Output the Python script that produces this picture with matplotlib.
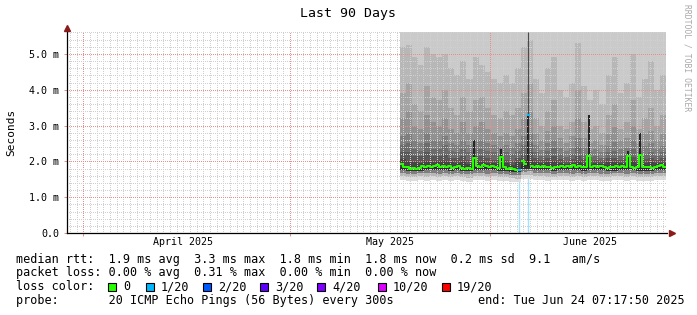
import numpy as np
import matplotlib.pyplot as plt
from matplotlib.patches import Rectangle

W, H = 697, 315
MONO = "DejaVu Sans Mono"

# time axis: days from the left edge of the graph (90 days wide)
month_days = [2.45, 33.45, 63.45]          # Apr 1, May 1, Jun 1
label_days = [17.45, 48.45, 78.45]
month_labels = ["April 2025", "May 2025", "June 2025"]

y_top = 5.61
y_ticks = [0, 1, 2, 3, 4, 5]
y_labels = ["0.0", "1.0 m", "2.0 m", "3.0 m", "4.0 m", "5.0 m"]

# samples start mid May
t0 = 49.95
med_step = 0.4534
smoke_step = 2 * med_step

median = [1.92, 1.84, 1.83, 1.80, 1.81, 1.79, 1.82, 1.86, 1.84, 1.88,
          1.83, 1.87, 1.90, 1.85, 1.86, 1.83, 1.88, 1.82, 1.85, 1.88,
          1.81, 1.79, 1.82, 1.80, 2.08, 1.86, 1.84, 1.89, 1.86, 1.83,
          1.88, 1.85, 1.82, 2.12, 1.84, 1.80, 1.82, 1.78, 1.77, 1.76,
          2.00, 1.93, 3.30, 1.88, 1.85, 1.87, 1.84, 1.86, 1.83, 1.85,
          1.82, 1.84, 1.83, 1.86, 1.84, 1.88, 1.85, 1.89, 1.84, 1.86,
          1.83, 1.85, 2.15, 1.84, 1.86, 1.83, 1.87, 1.84, 1.82, 1.85,
          1.83, 1.86, 1.84, 1.88, 1.85, 2.15, 1.84, 1.82, 1.83, 2.18,
          1.84, 1.83, 1.85, 1.82, 1.84, 1.86, 1.90, 1.85]
loss_at = [39, 42]
loss_n = [1, 1]

# smoke: upper pings (12..18) and lower pings (1, 3, 6, 9)
p18 = [5.2, 5.25, 4.9, 4.7, 5.2, 5.0, 4.9, 5.0, 4.6, 4.4, 4.8, 4.3, 4.9, 4.7, 4.5,
       4.3, 4.2, 4.4, 4.2, 4.6, 5.2, 5.4, 4.3, 3.9, 4.6, 4.9, 4.0, 3.8, 4.2, 5.3,
       4.1, 3.7, 4.0, 3.6, 4.4, 4.9, 3.9, 4.2, 5.0, 3.8, 4.3, 4.8, 4.0, 4.4]
p17 = [3.9, 4.2, 3.6, 3.4, 4.1, 3.8, 3.7, 4.0, 3.5, 3.3, 3.8, 3.4, 3.7, 3.8, 3.5,
       3.3, 3.2, 3.4, 3.3, 3.5, 3.9, 4.2, 3.2, 3.0, 3.4, 3.7, 3.0, 2.9, 3.1, 4.0,
       3.1, 2.9, 3.0, 2.8, 3.3, 3.6, 2.9, 3.1, 3.7, 2.9, 3.2, 3.5, 3.0, 3.3]
p16 = [3.2, 3.4, 3.0, 2.9, 3.3, 3.1, 3.0, 3.2, 2.9, 2.8, 3.1, 2.8, 3.0, 3.1, 2.9,
       2.8, 2.7, 2.8, 2.7, 2.9, 3.2, 3.4, 2.75, 2.6, 2.85, 3.0, 2.65, 2.5, 2.7, 3.2,
       2.65, 2.5, 2.6, 2.45, 2.75, 2.95, 2.6, 2.65, 3.0, 2.5, 2.75, 2.85, 2.6, 2.75]
p15 = [2.7, 2.8, 2.6, 2.5, 2.8, 2.6, 2.6, 2.7, 2.5, 2.45, 2.6, 2.45, 2.6, 2.6, 2.5,
       2.45, 2.4, 2.45, 2.4, 2.5, 2.7, 2.8, 2.45, 2.32, 2.5, 2.6, 2.38, 2.3, 2.38, 2.65,
       2.38, 2.3, 2.34, 2.25, 2.42, 2.55, 2.34, 2.38, 2.6, 2.3, 2.42, 2.5, 2.34, 2.42]
p14 = [2.45, 2.5, 2.35, 2.3, 2.5, 2.35, 2.35, 2.45, 2.3, 2.25, 2.35, 2.25, 2.35, 2.35, 2.3,
       2.25, 2.2, 2.25, 2.2, 2.3, 2.45, 2.5, 2.25, 2.15, 2.3, 2.38, 2.2, 2.12, 2.2, 2.4,
       2.2, 2.12, 2.16, 2.1, 2.25, 2.3, 2.16, 2.2, 2.35, 2.12, 2.2, 2.25, 2.16, 2.25]
p13 = [2.25, 2.25, 2.15, 2.15, 2.25, 2.15, 2.15, 2.2, 2.1, 2.1, 2.15, 2.05, 2.15, 2.15, 2.1,
       2.05, 2.05, 2.05, 2.0, 2.1, 2.2, 2.25, 2.1, 2.04, 2.1, 2.15, 2.06, 2.02, 2.06, 2.15,
       2.06, 2.02, 2.04, 2.02, 2.08, 2.1, 2.04, 2.06, 2.12, 2.02, 2.06, 2.08, 2.04, 2.08]
p12 = [2.06, 2.02, 1.98, 1.96, 2.02, 1.98, 2.0, 2.02, 1.98, 1.96, 1.98, 1.93, 2.0, 1.98, 1.96,
       1.94, 1.93, 1.94, 1.9, 1.98, 2.04, 2.03, 1.98, 1.94, 1.98, 2.0, 1.95, 1.93, 1.95, 2.0,
       1.95, 1.93, 1.94, 1.93, 1.97, 1.98, 1.94, 1.95, 2.0, 1.93, 1.95, 1.97, 1.94, 1.96]
p9 = [1.76, 1.74, 1.73, 1.74, 1.75, 1.76, 1.75, 1.75, 1.74, 1.75, 1.73, 1.72, 1.75, 1.76, 1.75,
      1.75, 1.74, 1.72, 1.70, 1.69, 1.78, 1.80, 1.76, 1.76, 1.75, 1.74, 1.75, 1.76, 1.75, 1.76,
      1.74, 1.76, 1.75, 1.75, 1.74, 1.74, 1.76, 1.75, 1.75, 1.74, 1.74, 1.74, 1.75, 1.75]
p6 = [1.68, 1.66, 1.65, 1.67, 1.67, 1.68, 1.66, 1.67, 1.66, 1.68, 1.65, 1.64, 1.67, 1.68, 1.66,
      1.67, 1.66, 1.64, 1.62, 1.61, 1.70, 1.72, 1.68, 1.67, 1.67, 1.66, 1.68, 1.68, 1.66, 1.68,
      1.66, 1.68, 1.67, 1.66, 1.66, 1.67, 1.68, 1.66, 1.67, 1.66, 1.65, 1.66, 1.67, 1.68]
p3 = [1.59, 1.56, 1.56, 1.58, 1.57, 1.59, 1.57, 1.58, 1.56, 1.59, 1.56, 1.54, 1.58, 1.59, 1.57,
      1.58, 1.57, 1.55, 1.53, 1.52, 1.61, 1.63, 1.58, 1.59, 1.57, 1.57, 1.59, 1.58, 1.57, 1.60,
      1.56, 1.59, 1.58, 1.57, 1.57, 1.58, 1.59, 1.57, 1.58, 1.56, 1.57, 1.56, 1.58, 1.58]
p1 = [1.48, 1.45, 1.46, 1.47, 1.46, 1.49, 1.46, 1.48, 1.45, 1.48, 1.45, 1.43, 1.47, 1.49, 1.46,
      1.48, 1.46, 1.44, 1.42, 1.41, 1.50, 1.52, 1.47, 1.49, 1.46, 1.47, 1.48, 1.47, 1.46, 1.49,
      1.45, 1.48, 1.47, 1.46, 1.46, 1.48, 1.48, 1.46, 1.47, 1.45, 1.46, 1.45, 1.48, 1.47]

# narrow dark columns where the pings split
spike_idx = [24, 33, 42, 62, 75, 79]
spike_lo = [1.85, 1.85, 1.88, 1.85, 1.85, 1.85]
spike_hi = [2.6, 2.35, 3.3, 3.3, 2.3, 2.8]

loss_levels = ["0", "1/20", "2/20", "3/20", "4/20", "10/20", "19/20"]
loss_colors = ["#26ff00", "#00b8ff", "#0059ff", "#5e00ff", "#7e00ff", "#dd00ff", "#ff0000"]


def px(x, y):
    return x / W, 1 - y / H


def ext(a):
    a = np.asarray(a, float)
    return np.append(a, a[-1])


fig = plt.figure(figsize=(W / 100, H / 100), dpi=100)
fig.patch.set_facecolor("white")
ax = fig.add_axes([67 / W, (H - 233) / H, 600 / W, 201 / H])
ax.set_xlim(0, 90)
ax.set_ylim(0, y_top)

# smoke
n_s = len(p18)
ts = t0 + smoke_step * np.arange(n_s + 1)
top = np.full(n_s, y_top)
med = np.array(median)
n_m = len(med)
tm = t0 + med_step * np.arange(n_m + 1)
med_s = np.minimum(med[0::2], med[1::2])

layers = [
    (p1, top, "#dddddd"),
    (p3, top, "#cacaca"),
    (p3, p18, "#b7b7b7"),
    (p6, p17, "#a4a4a4"),
    (p6, p16, "#919191"),
    (p6, p15, "#7e7e7e"),
    (p9, p14, "#6b6b6b"),
    (p9, p13, "#585858"),
    (p9, p12, "#454545"),
    (p9, med_s, "#323232"),
]

loss = np.zeros(n_m, dtype=int)
for i, n in zip(loss_at, loss_n):
    loss[i] = n
tc = t0 + med_step * (np.arange(n_m) + 0.5)
ax.vlines(tc[loss > 0], 0, y_top, color="#a3e2ff", lw=1.0, zorder=0.8)

for lo, hi, c in layers:
    ax.fill_between(ts, ext(lo), ext(hi), step="post", color=c, lw=0, zorder=1)

ax.vlines(tc[spike_idx], spike_lo, spike_hi, color="#262626", lw=1.5, zorder=1.2)
ax.vlines(tc[42], 3.3, y_top, color="#4a4a4a", lw=0.8, zorder=1.2)

# median coloured by loss
for k in np.unique(loss):
    m = np.where(loss == k, med, np.nan)
    ax.plot(tm, ext(m), drawstyle="steps-post", color=loss_colors[int(k)],
            lw=1.45, zorder=3, solid_capstyle="butt")

# grid: daily / 0.2 ms minor lines, month / 1 ms major lines
day_lines = [d for d in np.arange(90) + 0.45 if min(abs(d - m) for m in month_days) > 0.1]
y_minor = [v for v in np.arange(0.2, 5.61, 0.2) if abs(v - round(v)) > 0.05]
ax.set_axisbelow(False)
ax.set_xticks(month_days)
ax.set_xticks(day_lines, minor=True)
ax.set_yticks(y_ticks)
ax.set_yticklabels(y_labels, family=MONO, fontsize=7.2)
ax.set_yticks(y_minor, minor=True)
ax.set_xticklabels([])
ax.grid(which="minor", color="#d0d0d0", lw=0.72, linestyle=(0, (1, 1.5)), antialiased=False)
ax.grid(which="major", color="#ec8c8c", lw=0.72, linestyle=(0, (1, 1.5)), antialiased=False)
ax.tick_params(which="major", length=2.5, width=0.7, color="#ec8c8c", pad=3)
ax.tick_params(which="minor", length=0)
for d, lab in zip(label_days, month_labels):
    ax.text(d, -0.018, lab, transform=ax.get_xaxis_transform(), ha="center", va="top",
            family=MONO, fontsize=7.2)

for s in ["top", "right"]:
    ax.spines[s].set_visible(False)
for s in ["left", "bottom"]:
    ax.spines[s].set_color("black")
    ax.spines[s].set_linewidth(0.9)
    ax.spines[s].set_zorder(4)
ax.plot([0], [1.02], marker="^", color="#8b1a1a", ms=4, transform=ax.transAxes, clip_on=False)
ax.plot([1.008], [0], marker=">", color="#8b1a1a", ms=4, transform=ax.transAxes, clip_on=False)

# texts
fig.text(*px(348, 14), "Last 90 Days", ha="center", va="center", family=MONO, fontsize=9.5)
fig.text(*px(11, 132), "Seconds", ha="center", va="center", rotation=90, family=MONO, fontsize=8)
fig.text(*px(687, 58), "RRDTOOL / TOBI OETIKER", ha="center", va="center", rotation=270,
         family=MONO, fontsize=5.8, color="#a8a8a8")

fs = 8.5
fig.text(*px(16, 259), "median rtt:  1.9 ms avg  3.3 ms max  1.8 ms min  1.8 ms now  0.2 ms sd  9.1   am/s",
         va="center", family=MONO, fontsize=fs)
fig.text(*px(16, 272.5), "packet loss: 0.00 % avg  0.31 % max  0.00 % min  0.00 % now",
         va="center", family=MONO, fontsize=fs)
fig.text(*px(16, 286.5), "loss color:", va="center", family=MONO, fontsize=fs)
sq_x = [108, 146, 203, 260, 317, 378, 442]
for x, lab, c in zip(sq_x, loss_levels, loss_colors):
    fig.patches.append(Rectangle(px(x, 290.5), 8 / W, 8 / H, transform=fig.transFigure,
                                 facecolor=c, edgecolor="black", lw=0.8))
    fig.text(*px(x + 15, 286.5), lab, va="center", family=MONO, fontsize=fs)
fig.text(*px(16, 300.5), "probe:       20 ICMP Echo Pings (56 Bytes) every 300s",
         va="center", family=MONO, fontsize=fs)
fig.text(*px(478, 300.5), "end: Tue Jun 24 07:17:50 2025", va="center", family=MONO, fontsize=fs)

fig.savefig("out.png", dpi=100, facecolor="white")
